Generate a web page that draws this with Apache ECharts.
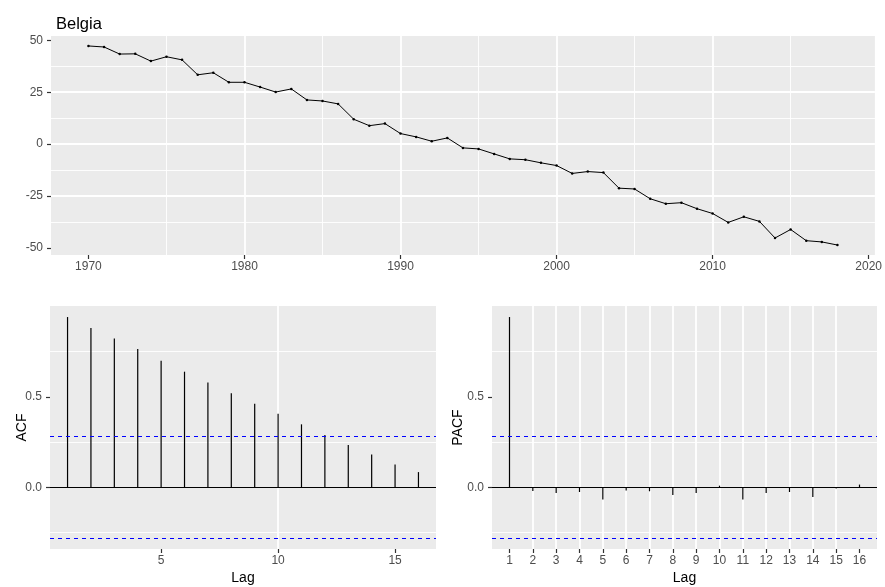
<!DOCTYPE html>
<html>
<head>
<meta charset="utf-8">
<title>Belgia</title>
<script src="https://cdn.jsdelivr.net/npm/echarts@6/dist/echarts.min.js"></script>
<style>
  html, body { margin: 0; padding: 0; background: #fff; }
  #chart { width: 885px; height: 587px; }
</style>
</head>
<body>
<div id="chart"></div>
<script>
// Annual series
const years = [1970, 1971, 1972, 1973, 1974, 1975, 1976, 1977, 1978, 1979,
  1980, 1981, 1982, 1983, 1984, 1985, 1986, 1987, 1988, 1989,
  1990, 1991, 1992, 1993, 1994, 1995, 1996, 1997, 1998, 1999,
  2000, 2001, 2002, 2003, 2004, 2005, 2006, 2007, 2008, 2009,
  2010, 2011, 2012, 2013, 2014, 2015, 2016, 2017, 2018];
const values = [47.3, 46.8, 43.4, 43.5, 40.0, 42.1, 40.6, 33.4, 34.4, 29.8,
  29.8, 27.5, 25.1, 26.6, 21.3, 20.8, 19.4, 12.0, 8.9, 9.9,
  5.1, 3.5, 1.4, 3.0, -1.8, -2.3, -4.7, -7.1, -7.5, -9.0,
  -10.3, -14.1, -13.2, -13.7, -21.2, -21.6, -26.3, -28.7, -28.2, -31.1,
  -33.4, -37.7, -35.0, -37.2, -45.2, -41.1, -46.5, -47.1, -48.6];

// Correlograms
const lags = [1, 2, 3, 4, 5, 6, 7, 8, 9, 10, 11, 12, 13, 14, 15, 16];
const acfValues = [0.941, 0.881, 0.822, 0.764, 0.700, 0.639, 0.579, 0.520,
  0.462, 0.407, 0.348, 0.289, 0.234, 0.181, 0.126, 0.084];
const pacfValues = [0.941, -0.020, -0.031, -0.026, -0.068, -0.018, -0.022, -0.042,
  -0.031, 0.009, -0.068, -0.031, -0.026, -0.053, -0.007, 0.015];
const ciBound = 0.28;

// Tick labels
const yearTicks = [1970, 1980, 1990, 2000, 2010, 2020];
const valueTicks = [-50, -25, 0, 25, 50];
const acfLagTicks = [5, 10, 15];
const pacfLagTicks = [1, 2, 3, 4, 5, 6, 7, 8, 9, 10, 11, 12, 13, 14, 15, 16];
const corrTicks = [0, 0.5];

const FONT = '"Liberation Sans", Arial, sans-serif';

// ggplot-style 5% expansion of a data range
function expand(lo, hi) {
  const pad = (hi - lo) * 0.05;
  return [lo - pad, hi + pad];
}

const xYear = expand(Math.min(...years), Math.max(...years));
const yVal = expand(Math.min(...values), Math.max(...values));
const xLag = expand(Math.min(...lags), Math.max(...lags));
const yCorr = expand(
  Math.min(-ciBound, ...acfValues, ...pacfValues),
  Math.max(ciBound, ...acfValues, ...pacfValues)
);

function axis(kind, gridIndex, range, step, ticks, fmt, extra) {
  const a = {
    type: 'value',
    gridIndex: gridIndex,
    min: range[0],
    max: range[1],
    minInterval: step,
    maxInterval: step,
    axisLine: { show: false, onZero: false },
    axisTick: { show: true, inside: false, length: 4, customValues: ticks, lineStyle: { color: '#333333', width: 1.2 } },
    axisLabel: {
      customValues: ticks,
      color: '#4D4D4D',
      fontSize: 12,
      fontFamily: FONT,
      margin: kind === 'x' ? 6 : 8,
      formatter: fmt
    },
    splitLine: { show: true, showMinLine: false, showMaxLine: false, lineStyle: { color: '#FFFFFF', width: 1.8 } },
    minorTick: { show: false, splitNumber: 2 },
    minorSplitLine: { show: false, lineStyle: { color: '#FFFFFF', width: 0.9 } }
  };
  return Object.assign(a, extra || {});
}

function stems(xi, yi, vals) {
  return {
    type: 'custom',
    xAxisIndex: xi,
    yAxisIndex: yi,
    data: lags.map((l, i) => [l, vals[i]]),
    renderItem: function (params, api) {
      const p0 = api.coord([api.value(0), 0]);
      const p1 = api.coord([api.value(0), api.value(1)]);
      return {
        type: 'line',
        shape: { x1: p0[0], y1: p0[1], x2: p1[0], y2: p1[1] },
        style: { stroke: '#000000', lineWidth: 1.2 }
      };
    },
    markLine: {
      silent: true,
      symbol: ['none', 'none'],
      label: { show: false },
      animation: false,
      data: [
        { yAxis: 0, lineStyle: { color: '#000000', type: 'solid', width: 1.1 } },
        { yAxis: ciBound, lineStyle: { color: '#0000FF', type: [4, 4], width: 1 } },
        { yAxis: -ciBound, lineStyle: { color: '#0000FF', type: [4, 4], width: 1 } }
      ]
    }
  };
}

const plain = v => String(v);
const oneDecimal = v => v.toFixed(1);
const nameStyle = { color: '#000000', fontSize: 14, fontFamily: FONT };
const minorOn = { show: true, lineStyle: { color: '#FFFFFF', width: 0.9 } };

const option = {
  animation: false,
  backgroundColor: '#FFFFFF',
  textStyle: { fontFamily: FONT },
  title: {
    text: 'Belgia',
    left: 51,
    top: 11,
    textStyle: { fontSize: 16.5, fontWeight: 'normal', color: '#000000', fontFamily: FONT }
  },
  grid: [
    { left: 51, top: 36, width: 826, height: 219, show: true, backgroundColor: '#EBEBEB', borderWidth: 0 },
    { left: 50, top: 306, width: 386, height: 243, show: true, backgroundColor: '#EBEBEB', borderWidth: 0 },
    { left: 492, top: 306, width: 385, height: 243, show: true, backgroundColor: '#EBEBEB', borderWidth: 0 }
  ],
  xAxis: [
    axis('x', 0, xYear, 10, yearTicks, plain, { minorSplitLine: minorOn }),
    axis('x', 1, xLag, 5, acfLagTicks, plain, {
      name: 'Lag', nameLocation: 'middle', nameGap: 22, nameTextStyle: nameStyle
    }),
    axis('x', 2, xLag, 1, pacfLagTicks, plain, {
      name: 'Lag', nameLocation: 'middle', nameGap: 22, nameTextStyle: nameStyle
    })
  ],
  yAxis: [
    axis('y', 0, yVal, 25, valueTicks, plain, { minorSplitLine: minorOn }),
    axis('y', 1, yCorr, 0.5, corrTicks, oneDecimal, {
      minorSplitLine: minorOn,
      name: 'ACF', nameLocation: 'middle', nameGap: 20.5, nameMoveOverlap: false, nameTextStyle: nameStyle
    }),
    axis('y', 2, yCorr, 0.5, corrTicks, oneDecimal, {
      minorSplitLine: minorOn,
      name: 'PACF', nameLocation: 'middle', nameGap: 26.5, nameMoveOverlap: false, nameTextStyle: nameStyle
    })
  ],
  series: [
    {
      type: 'line',
      xAxisIndex: 0,
      yAxisIndex: 0,
      data: years.map((y, i) => [y, values[i]]),
      symbol: 'circle',
      symbolSize: 2.5,
      showSymbol: true,
      lineStyle: { color: '#000000', width: 1 },
      itemStyle: { color: '#000000' }
    },
    stems(1, 1, acfValues),
    stems(2, 2, pacfValues)
  ]
};

const chart = echarts.init(document.getElementById('chart'), null, { renderer: 'canvas' });
chart.setOption(option);
</script>
</body>
</html>
